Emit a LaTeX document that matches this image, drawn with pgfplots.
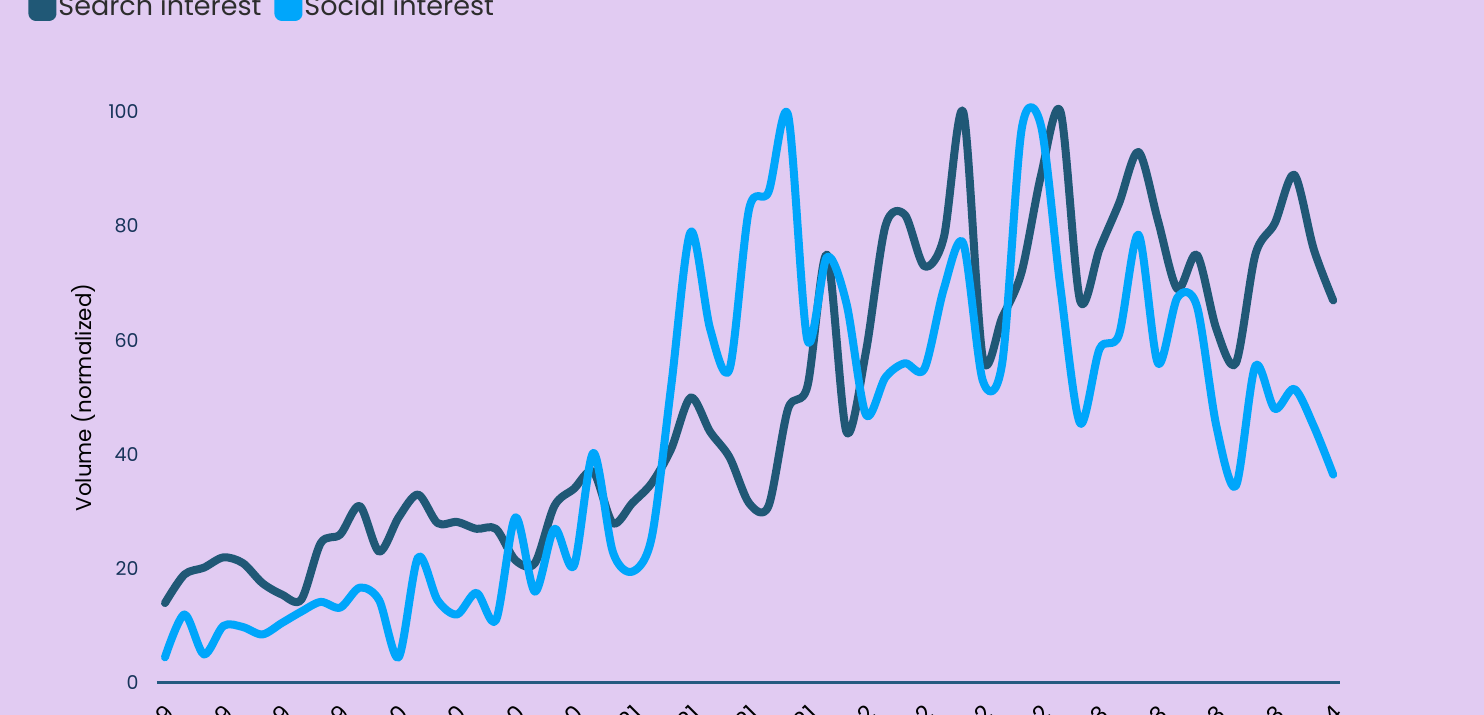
\documentclass[border=0pt]{standalone}
\usepackage{pgfplots}
\usepackage{pgfplotstable}
\pgfplotsset{compat=1.18}
\usepackage{fontspec}
\setmainfont{Poppins}
\definecolor{bg}{RGB}{225,203,242}
\definecolor{darkc}{RGB}{32,88,118}
\definecolor{lightc}{RGB}{0,166,251}
\definecolor{axisc}{RGB}{36,89,128}
\definecolor{tickc}{RGB}{23,52,90}
\definecolor{legtext}{RGB}{45,45,45}

\pgfplotstableread{
x search social
0 14 4.5
1 19 12
2 20.2 5
3 22 10
4 21 9.8
5 17.5 8.5
6 15.5 10.5
7 14.6 12.5
8 24.5 14.2
9 26 13.2
10 31 16.7
11 23 14.5
12 29 4.5
13 33 22
14 28 14.5
15 28.2 12
16 27 15.8
17 27 11
18 21.5 29
19 21 16
20 31 27
21 34 20.5
22 37 40.3
23 28 23
24 31.5 19.5
25 35 25.5
26 41 52
27 50 79
28 44 62
29 39.5 55
30 31.5 83
31 31 86
32 48 99.5
33 52 60
34 75 74.6
35 44 66.5
36 58 47
37 80 53.5
38 82 56
39 73 55
40 78 69
41 100 77
42 57 53
43 64 56
44 72 97
45 89 97.5
46 100 69
47 67 45.5
48 76 58.5
49 84 61
50 93 78.5
51 81 56
52 69 67.5
53 75 66
54 62 45
55 56 34.5
56 75 55.5
57 80.5 48
58 89 51.5
59 76 45
60 67 36.5
}\datatable

\begin{document}
\begin{tikzpicture}
\fill[bg] (-78.5pt,-16pt) rectangle (663.5pt,341.5pt);
\begin{axis}[
  at={(0,0)}, anchor=south west,
  scale only axis, width=591.5pt, height=285.5pt,
  xmin=-0.41, xmax=60.35, ymin=0, ymax=100,
  clip=false,
  axis lines*=left,
  y axis line style={draw=none},
  x axis line style={draw=axisc, line width=1.5pt},
  ytick={0,20,40,60,80,100},
  xtick={-0.36,2.64,5.64,8.64,11.64,14.64,17.64,20.64,23.64,26.64,29.64,32.64,35.64,38.64,41.64,44.64,47.64,50.64,53.64,56.64,59.64},
  xticklabels={Jan 2019,Apr 2019,Jul 2019,Oct 2019,Jan 2020,Apr 2020,Jul 2020,Oct 2020,Jan 2021,Apr 2021,Jul 2021,Oct 2021,Jan 2022,Apr 2022,Jul 2022,Oct 2022,Jan 2023,Apr 2023,Jul 2023,Oct 2023,Jan 2024},
  tick style={draw=none},
  /pgf/number format/assume math mode=true,
  yticklabel style={font=\fontsize{9.5}{11}\selectfont, text=tickc, inner sep=0pt, xshift=-9pt, anchor=east},
  xticklabel style={font=\fontsize{11.5}{13}\selectfont, text=black, xshift=3pt, yshift=-10pt, rotate=45, anchor=north east, inner sep=0pt},
  ylabel={Volume (normalized)},
  ylabel style={font=\fontsize{10.7}{13}\selectfont, text=black, at={(axis description cs:-0.062,0.5)}, anchor=center},
  legend columns=2,
  legend style={at={(axis description cs:-0.109,1.184)}, anchor=west, draw=none, fill=none, inner sep=0pt,
    font=\fontsize{13.5}{16}\selectfont, text=legtext,
    /tikz/every odd column/.append style={column sep=-1pt},
    /tikz/every even column/.append style={column sep=4.5pt}},
  legend image code/.code={\fill[rounded corners=1.5pt] (0pt,-5pt) rectangle (10pt,5pt);},
  every axis plot/.append style={line width=4pt, smooth, tension=0.5, line join=round, line cap=round, mark=none},
]
\addplot[color=darkc] table[x=x, y=search] {\datatable};
\addlegendentry{Search interest}
\addplot[color=lightc] table[x=x, y=social] {\datatable};
\addlegendentry{Social interest}
\end{axis}
\pgfresetboundingbox
\useasboundingbox (-78.5pt,-16pt) rectangle (663.5pt,341.5pt);
\end{tikzpicture}
\end{document}
